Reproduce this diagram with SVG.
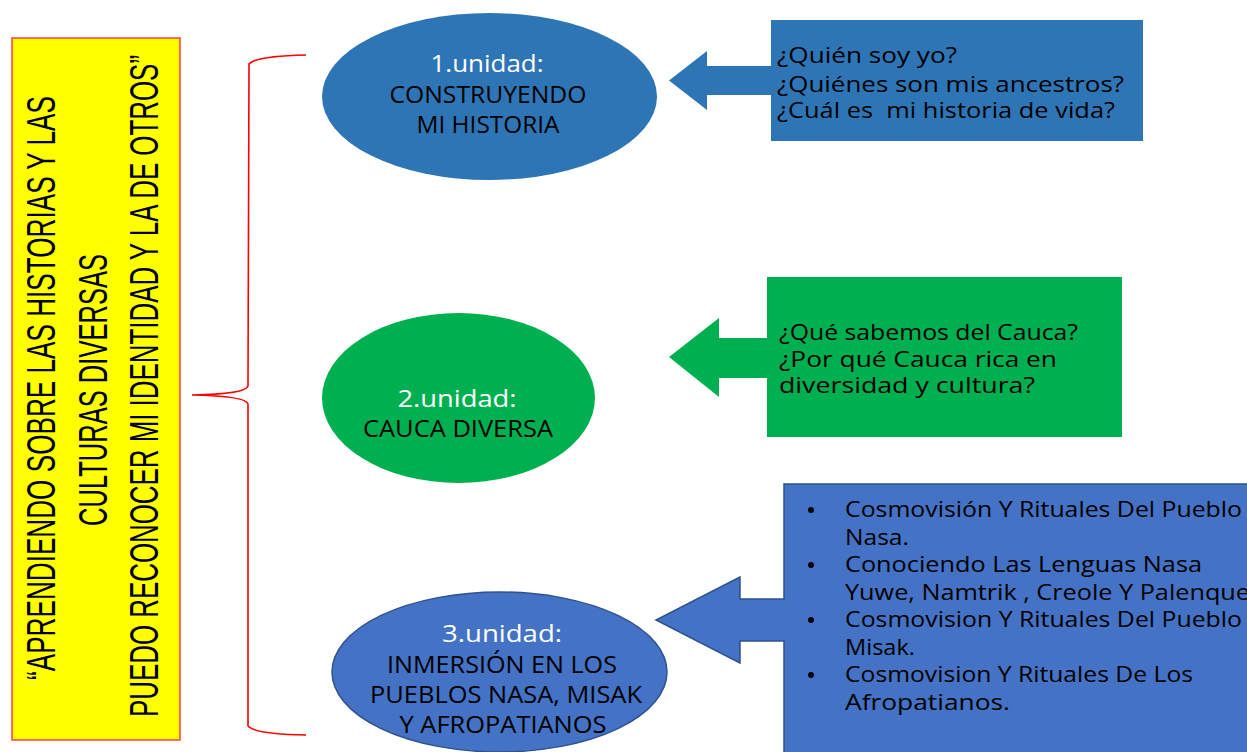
<svg xmlns="http://www.w3.org/2000/svg" width="1247" height="752" viewBox="0 0 1247 752">
<style>
.title{font-family:"Liberation Sans",Arial,sans-serif;font-size:26px;fill:#000}
.lbl{font-family:"Open Sans","Noto Sans",sans-serif;fill:#000;text-anchor:middle}
.u{font-size:23px;fill:#fff}
.cap{font-size:24px}
.q{font-family:"Open Sans","Noto Sans",sans-serif;font-size:21px;fill:#000}
.blue{fill:#2E75B6}
.green{fill:#00B050}
.blue3{fill:#4472C4;stroke:#2F528F;stroke-width:1.5}
.brace{fill:none;stroke:#FF0000;stroke-width:1.6}
</style>
<rect width="1247" height="752" fill="#fff"/>

<g id="title">
<rect x="12" y="38" width="168" height="702" fill="#FFFF00" stroke="#FF4040" stroke-width="1.5"/>
<text class="title" transform="translate(55,388) rotate(-90) scale(1,1.55)" text-anchor="middle" textLength="584" lengthAdjust="spacingAndGlyphs">“APRENDIENDO SOBRE LAS HISTORIAS Y LAS</text>
<text class="title" transform="translate(107,390) rotate(-90) scale(1,1.55)" text-anchor="middle" textLength="272" lengthAdjust="spacingAndGlyphs">CULTURAS DIVERSAS</text>
<text class="title" transform="translate(158,386) rotate(-90) scale(1,1.55)" text-anchor="middle" textLength="662" lengthAdjust="spacingAndGlyphs">PUEDO RECONOCER MI IDENTIDAD Y LA DE OTROS”</text>
</g>

<g id="connectors">
<path class="brace" d="M306,55 Q256,56 249,64 L248,386 Q246,394 192,395 Q246,396 248,404 L248,726 Q255,734 306,735"/>
</g>

<g id="unit1">
<ellipse class="blue" cx="489.5" cy="96.5" rx="167.5" ry="83.5"/>
<text class="lbl u" x="487" y="72" textLength="113" lengthAdjust="spacingAndGlyphs">1.unidad:</text>
<text class="lbl cap" x="488" y="103" textLength="197" lengthAdjust="spacingAndGlyphs">CONSTRUYENDO</text>
<text class="lbl cap" x="488" y="133" textLength="143" lengthAdjust="spacingAndGlyphs">MI HISTORIA</text>
</g>

<g id="questions1">
<path class="blue" d="M771,20 H1143 V141 H771 V95 H707 V110 L669,80.5 L707,51 V66 H771 Z"/>
<text class="q" x="777" y="63" textLength="180" lengthAdjust="spacingAndGlyphs">¿Quién soy yo?</text>
<text class="q" x="777" y="92" textLength="347" lengthAdjust="spacingAndGlyphs">¿Quiénes son mis ancestros?</text>
<text class="q" x="777" y="118" textLength="338" lengthAdjust="spacingAndGlyphs" xml:space="preserve">¿Cuál es  mi historia de vida?</text>
</g>

<g id="unit2">
<ellipse class="green" cx="458.5" cy="398" rx="136.5" ry="85"/>
<text class="lbl u" x="457" y="407" textLength="119" lengthAdjust="spacingAndGlyphs">2.unidad:</text>
<text class="lbl cap" x="458" y="437" textLength="190" lengthAdjust="spacingAndGlyphs">CAUCA DIVERSA</text>
</g>

<g id="questions2">
<path class="green" d="M767,277 H1122 V437 H767 V378 H719 V397 L669,357 L719,318 V338 H767 Z"/>
<text class="q" x="779" y="340" textLength="299" lengthAdjust="spacingAndGlyphs">¿Qué sabemos del Cauca?</text>
<text class="q" x="779" y="367" textLength="278" lengthAdjust="spacingAndGlyphs">¿Por qué Cauca rica en</text>
<text class="q" x="779" y="393" textLength="256" lengthAdjust="spacingAndGlyphs">diversidad y cultura?</text>
</g>

<g id="unit3">
<ellipse class="blue3" cx="499.5" cy="672" rx="167.5" ry="80"/>
<text class="lbl u" x="502" y="642" textLength="120" lengthAdjust="spacingAndGlyphs">3.unidad:</text>
<text class="lbl cap" x="502" y="673" textLength="230" lengthAdjust="spacingAndGlyphs">INMERSIÓN EN LOS</text>
<text class="lbl cap" x="506" y="703" textLength="272" lengthAdjust="spacingAndGlyphs">PUEBLOS NASA, MISAK</text>
<text class="lbl cap" x="503" y="733" textLength="207" lengthAdjust="spacingAndGlyphs">Y AFROPATIANOS</text>
</g>

<g id="topics3">
<path class="blue3" d="M784,484 H1262 V765 H784 V641 H740 V663 L656,620 L740,577 V599 H784 Z"/>
<g class="q">
<circle cx="811" cy="510" r="3"/>
<circle cx="811" cy="565" r="3"/>
<circle cx="811" cy="620" r="3"/>
<circle cx="811" cy="675" r="3"/>
<text x="845" y="517" textLength="397" lengthAdjust="spacingAndGlyphs">Cosmovisión Y Rituales Del Pueblo</text>
<text x="845" y="545" textLength="64" lengthAdjust="spacingAndGlyphs">Nasa.</text>
<text x="845" y="572" textLength="357" lengthAdjust="spacingAndGlyphs">Conociendo Las Lenguas Nasa</text>
<text x="845" y="600" textLength="405" lengthAdjust="spacingAndGlyphs">Yuwe, Namtrik , Creole Y Palenque</text>
<text x="845" y="627" textLength="397" lengthAdjust="spacingAndGlyphs">Cosmovision Y Rituales Del Pueblo</text>
<text x="845" y="655" textLength="70" lengthAdjust="spacingAndGlyphs">Misak.</text>
<text x="845" y="682" textLength="348" lengthAdjust="spacingAndGlyphs">Cosmovision Y Rituales De Los</text>
<text x="845" y="710" textLength="165" lengthAdjust="spacingAndGlyphs">Afropatianos.</text>
</g>
</g>
</svg>
